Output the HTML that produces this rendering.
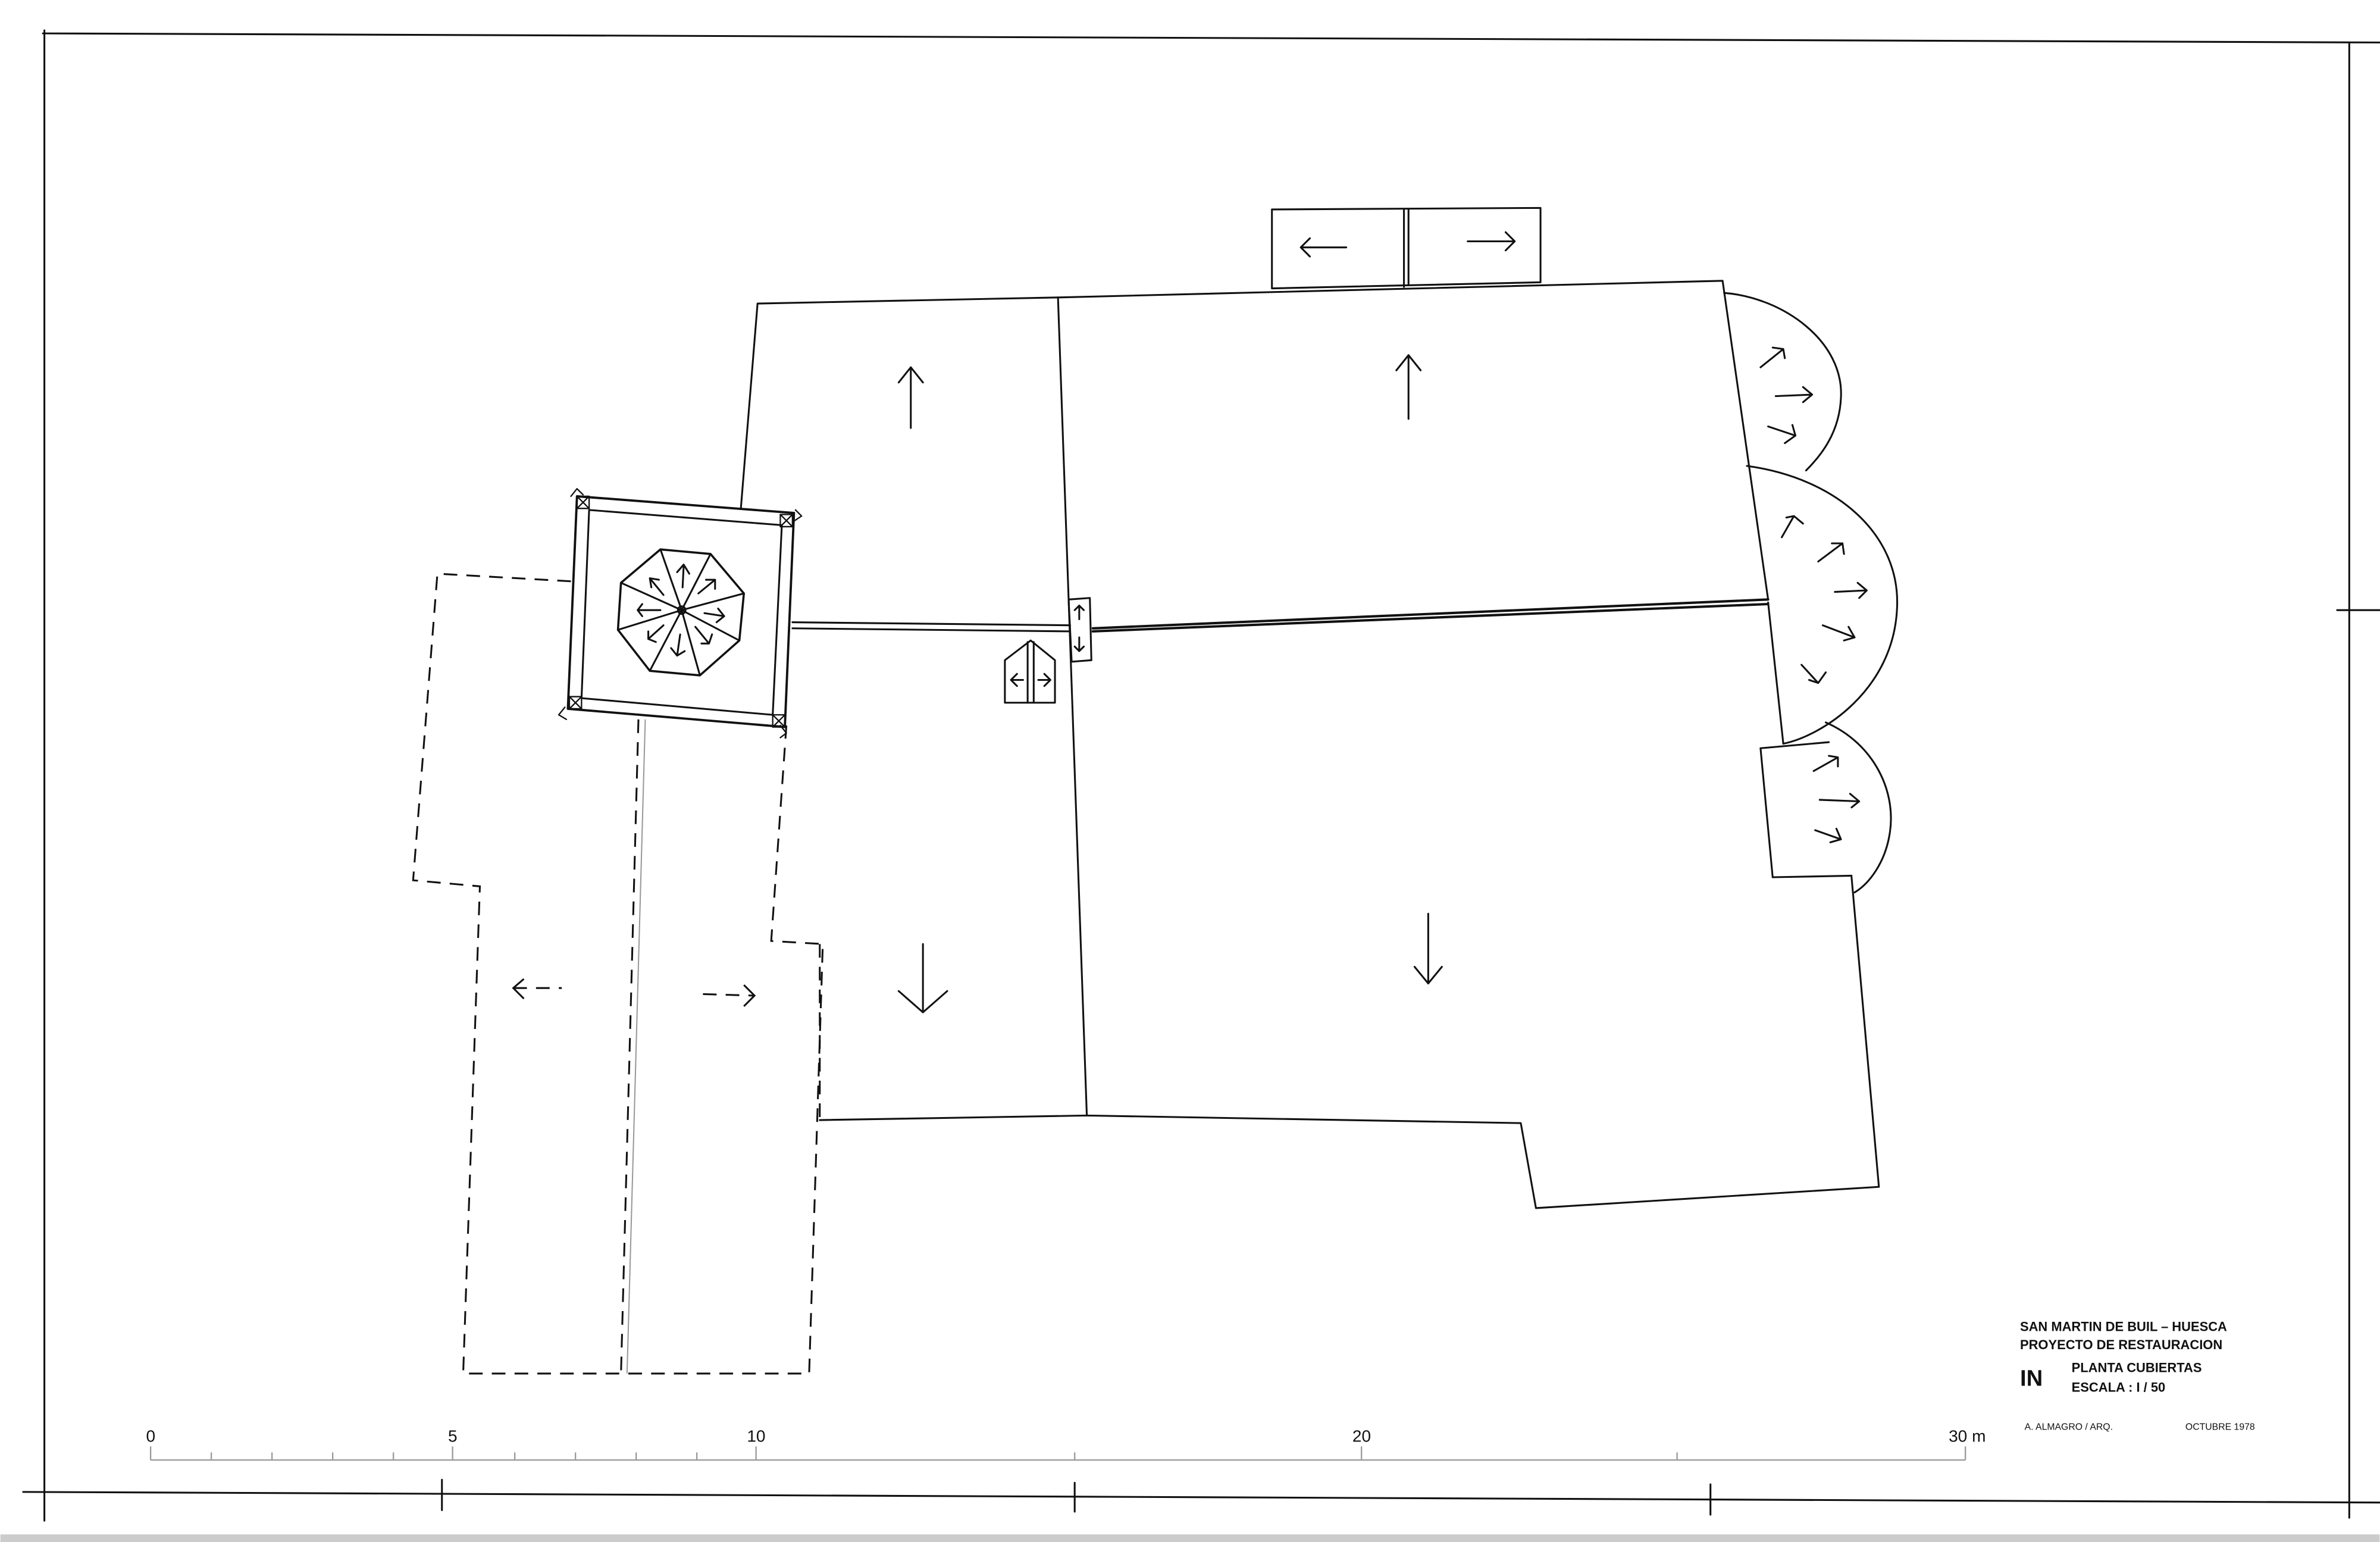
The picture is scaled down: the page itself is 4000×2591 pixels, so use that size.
<!DOCTYPE html>
<html><head><meta charset="utf-8"><style>
html,body{margin:0;padding:0;background:#fff;}
svg{display:block;}
text{font-family:"Liberation Sans",sans-serif;fill:#111;}
</style></head><body>
<svg width="4000" height="2591" viewBox="0 0 1568 1016" xmlns="http://www.w3.org/2000/svg">
<rect width="1568" height="1016" fill="#fff"/>
<g stroke="#111" fill="none" stroke-width="1.2" stroke-linecap="round" stroke-linejoin="round">
<!-- frame -->
<path d="M28 22 L1568 28"/>
<path d="M29 20 L29 1002"/>
<path d="M15 983 L1568 990"/>
<path d="M1548 28 L1548 1000"/>
<path d="M1540 402 L1568 402"/>
<path d="M291 975 L291 995 M708 977 L708 996 M1127 978 L1127 998"/>
<!-- top small box -->
<path d="M838 190 L838 138 L1015 137 L1015 186 Z"/>
<path d="M925 138 L925 189 M928 138 L928 188"/>
<path d="M887 163 L857 163 M863 157 L857 163 L863 169"/>
<path d="M967 159 L998 159 M992 153 L998 159 L992 165"/>
<!-- main roof outline -->
<path d="M488 335 L499 200 L697 196 L1135 185 L1165 395"/>
<path d="M697 196 L716 735"/>
<path d="M522 410 L705 412 M522 414 L705 416"/>
<path d="M720 414 L1165 395 M720 416 L1165 398" stroke-width="1.6"/>
<path d="M1165 397 L1175 490 M1160 493 L1168 578"/>
<path d="M1220 578 L1238 782 L1012 796 L1002 740 L716 735 L540 738"/>
<!-- semicircles -->
<path d="M1136 193 C1175 196 1215 225 1213 262 C1212 285 1200 300 1190 310"/>
<path d="M1151 307 C1210 315 1252 352 1250 400 C1248 455 1200 485 1175 490"/>
<path d="M1160 493 L1205 489 M1168 578 L1220 577"/>
<path d="M1203 476 C1235 490 1250 522 1245 550 C1242 568 1232 582 1222 588"/>
<!-- arrows in semicircles -->
<path d="M1160 242 L1175 230 M1168 229 L1175 230 L1176 236"/>
<path d="M1170 261 L1194 260 M1188 255 L1194 260 L1188 265"/>
<path d="M1165 281 L1183 287 M1176 292 L1183 287 L1181 280"/>
<path d="M1174 354 L1182 340 M1177 341 L1182 340 L1188 345"/>
<path d="M1198 370 L1214 358 M1207 358 L1214 358 L1215 365"/>
<path d="M1209 390 L1230 389 M1224 384 L1230 389 L1225 394"/>
<path d="M1201 412 L1222 420 M1218 413 L1222 420 L1215 422"/>
<path d="M1187 438 L1198 450 M1203 443 L1198 450 L1192 448"/>
<path d="M1195 508 L1211 499 M1205 498 L1211 499 L1211 505"/>
<path d="M1199 527 L1225 528 M1219 523 L1225 528 L1220 532"/>
<path d="M1196 547 L1213 553 M1210 546 L1213 553 L1206 555"/>
<!-- main arrows -->
<path d="M600 282 L600 242 M592 252 L600 242 L608 252"/>
<path d="M928 276 L928 234 M920 244 L928 234 L936 244"/>
<path d="M608 622 L608 667 M592 653 L608 667 L624 653"/>
<path d="M941 602 L941 648 M932 637 L941 648 L950 637"/>
<!-- door -->
<path d="M662 463 L662 435 L679 422 L695 435 L695 463 Z"/>
<path d="M677 423 L677 463 M681 423 L681 463"/>
<path d="M674 448 L666 448 M670 444 L666 448 L670 452"/>
<path d="M684 448 L692 448 M688 444 L692 448 L688 452"/>
<!-- small vertical box -->
<path d="M704 395 L718 394 L719 435 L706 436 Z"/>
<path d="M711 408 L711 399 M708 402 L711 399 L714 402"/>
<path d="M711 420 L711 429 M708 426 L711 429 L714 426"/>
<!-- tower -->
<path d="M380 327 L523 338 L517 479 L374 467 Z" stroke-width="1.5"/>
<path d="M388 336 L515 346 L509 471 L383 460 Z"/>
<g stroke-width="0.9">
<rect x="380" y="327" width="8" height="8"/><path d="M380 327 L388 335 M388 327 L380 335"/>
<rect x="514" y="339" width="8" height="8"/><path d="M514 339 L522 347 M522 339 L514 347"/>
<rect x="375" y="459" width="8" height="8"/><path d="M375 459 L383 467 M383 459 L375 467"/>
<rect x="509" y="471" width="8" height="8"/><path d="M509 471 L517 479 M517 471 L509 479"/>
<path d="M376 327 L380 322 L384 326 M524 336 L528 340 L522 344 M372 466 L368 471 L373 474 M514 478 L518 483 L514 486"/>
</g>
<!-- octagon -->
<path d="M435 362 L468 365 L490 391 L487 422 L461 445 L428 442 L407 415 L409 384 Z" stroke-width="1.4"/>
<path d="M435 362 L449 402 L468 365 M490 391 L449 402 L487 422 M461 445 L449 402 L428 442 M407 415 L449 402 L409 384"/>
<circle cx="449" cy="402" r="2.5"/>
<path d="M449.6 387 L450.3 373 M446 377 L450.3 372 L454 378"/>
<path d="M460 391 L471 382 M465 382 L471 382 L471 388"/>
<path d="M464 404 L477 406 M473 401 L477 406 L472 410"/>
<path d="M458 413 L467 424 M462 424 L467 424 L469 418"/>
<path d="M448 418 L446 432 M442 427 L446 432 L451 429"/>
<path d="M437 412 L427 421 M427 416 L427 421 L432 423"/>
<path d="M435 402 L420 402 M423 398 L420 402 L423 406"/>
<path d="M437 392 L428 381 M429 387 L428 381 L434 382"/>
</g>
<!-- dashed outline -->
<g stroke="#111" fill="none" stroke-width="1.2" stroke-dasharray="9,6">
<path d="M376 383 L288 378 L272 580 L316 584 L305 905 L533 905 L542 622 L508 620 L518 478"/>
<path d="M420.5 474 L409 905"/>
<path d="M338 651 L370 651"/>
<path d="M463 655 L497 656"/>
<path d="M540 622 L540 738"/>
</g>
<path d="M425 474 L413 905" stroke="#999" stroke-width="0.8" fill="none"/>
<g stroke="#111" fill="none" stroke-width="1.2">
<path d="M345 645 L338 651 L345 658"/>
<path d="M490 649 L497 656 L490 663"/>
</g>
<!-- scale -->
<g stroke="#999" stroke-width="0.9" fill="none">
<path d="M99 962 L1295 962"/>
<path d="M99 953 L99 962 M139 957 L139 962 M179 957 L179 962 M219 957 L219 962 M259 957 L259 962 M298 953 L298 962 M339 957 L339 962 M379 957 L379 962 M419 957 L419 962 M459 957 L459 962 M498 953 L498 962 M708 957 L708 962 M897 953 L897 962 M1105 957 L1105 962 M1295 953 L1295 962"/>
</g>
<g font-size="11">
<text x="96" y="950">0</text>
<text x="295" y="950">5</text>
<text x="492" y="950">10</text>
<text x="891" y="950">20</text>
<text x="1284" y="950">30 m</text>
</g>
<!-- title -->
<g font-weight="bold">
<text x="1331" y="877" font-size="8.6">SAN MARTIN DE BUIL – HUESCA</text>
<text x="1331" y="889" font-size="8.6">PROYECTO DE RESTAURACION</text>
<text x="1331" y="913" font-size="15">IN</text>
<text x="1365" y="904" font-size="8.6">PLANTA CUBIERTAS</text>
<text x="1365" y="917" font-size="8.6">ESCALA : I / 50</text>
<text x="1334" y="942" font-size="6.2" font-weight="normal">A. ALMAGRO / ARQ.</text>
<text x="1440" y="942" font-size="6.2" font-weight="normal">OCTUBRE 1978</text>
</g>
<rect x="0" y="1011" width="1568" height="5" fill="#ccc"/>
</svg>
</body></html>
